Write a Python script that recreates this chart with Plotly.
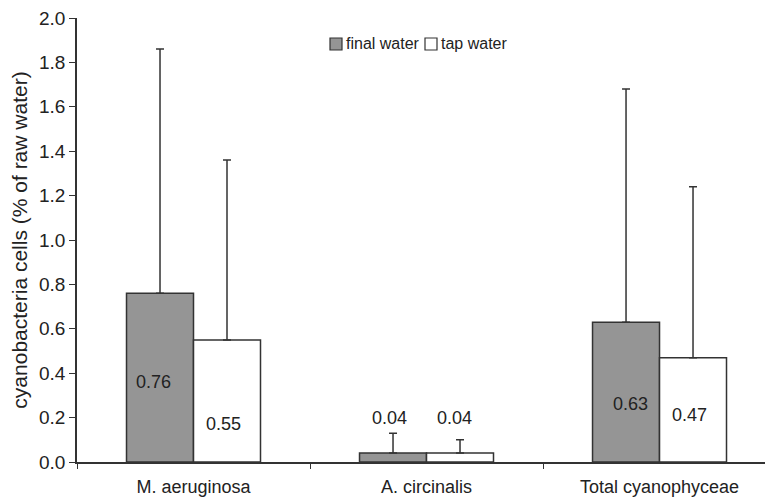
import plotly.graph_objects as go

categories = ["M. aeruginosa", "A. circinalis", "Total cyanophyceae"]
final_water = [0.76, 0.04, 0.63]
tap_water = [0.55, 0.04, 0.47]
final_err = [1.10, 0.09, 1.05]
tap_err = [0.81, 0.06, 0.77]
final_labels = ["0.76", "0.04", "0.63"]
tap_labels = ["0.55", "0.04", "0.47"]
series_names = ["final water", "tap water"]
series_colors = ["#959595", "#ffffff"]

# label placement (data units / pixel shifts)
final_label_y = [0.36, 0.20, 0.26]
tap_label_y = [0.17, 0.20, 0.21]
final_dx = [-40, -37, -29]
tap_dx = [30, 28, 30]

FONT = "Arial, Liberation Sans, sans-serif"
INK = "#333333"

fig = go.Figure()
for name, vals, errs, col in [(series_names[0], final_water, final_err, series_colors[0]),
                              (series_names[1], tap_water, tap_err, series_colors[1])]:
    fig.add_trace(go.Bar(
        name=name, x=categories, y=vals, showlegend=False,
        marker=dict(color=col, line=dict(color=INK, width=1.5)),
        error_y=dict(type="data", symmetric=False, array=errs,
                     arrayminus=[0] * len(errs), color=INK, thickness=1.5, width=4),
    ))

annotations = []
for i, c in enumerate(categories):
    annotations.append(dict(x=c, y=final_label_y[i], text=final_labels[i], xref="x", yref="y",
                            showarrow=False, xshift=final_dx[i], font=dict(size=18, color="#222", family=FONT)))
    annotations.append(dict(x=c, y=tap_label_y[i], text=tap_labels[i], xref="x", yref="y",
                            showarrow=False, xshift=tap_dx[i], font=dict(size=18, color="#222", family=FONT)))

# page has an 8px body margin; the figure is sized to end at the window edge
OFF = 8
W, H = 773 - OFF, 501 - OFF
L, R, T, B = 77 - OFF, 0, 18 - OFF, 39
pw, ph = W - L - R, H - T - B
def px(x):
    return (x - OFF - L) / pw
def py(y):
    return (H - B - (y - OFF)) / ph

shapes = []
legend_x = [330, 425]
for k, name in enumerate(series_names):
    x0 = legend_x[k]
    shapes.append(dict(type="rect", xref="paper", yref="paper",
                       x0=px(x0), x1=px(x0 + 12), y0=py(50), y1=py(38),
                       fillcolor=series_colors[k], line=dict(color=INK, width=1.2)))
    annotations.append(dict(x=px(x0 + 14), y=py(44), xref="paper", yref="paper",
                            text=name, showarrow=False, xanchor="left", yanchor="middle",
                            font=dict(size=16, color="#222", family=FONT)))

fig.update_layout(
    width=W, height=H,
    margin=dict(l=L, r=R, t=T, b=B),
    paper_bgcolor="white", plot_bgcolor="white",
    barmode="group", bargap=0.425, bargroupgap=0,
    font=dict(family=FONT, size=17, color="#222"),
    showlegend=False,
    annotations=annotations, shapes=shapes,
    xaxis=dict(range=[-0.5, 2.487], showline=True, linecolor=INK, linewidth=1.5,
               ticks="outside", tickson="boundaries", ticklen=5, tickcolor=INK,
               showgrid=False, zeroline=False, tickfont=dict(size=18), ticklabelstandoff=8,
               automargin=False, ticklabeloverflow="allow"),
    yaxis=dict(range=[0, 2.0], dtick=0.2, tickformat=".1f", showline=True, linecolor=INK,
               linewidth=1.5, ticks="outside", ticklen=6, tickcolor=INK, showgrid=False,
               zeroline=False, tickfont=dict(size=19), automargin=False,
               ticklabeloverflow="allow",
               title=dict(text="cyanobacteria cells (% of raw water)", font=dict(size=21), standoff=12)),
)

fig.write_html("out.html")
